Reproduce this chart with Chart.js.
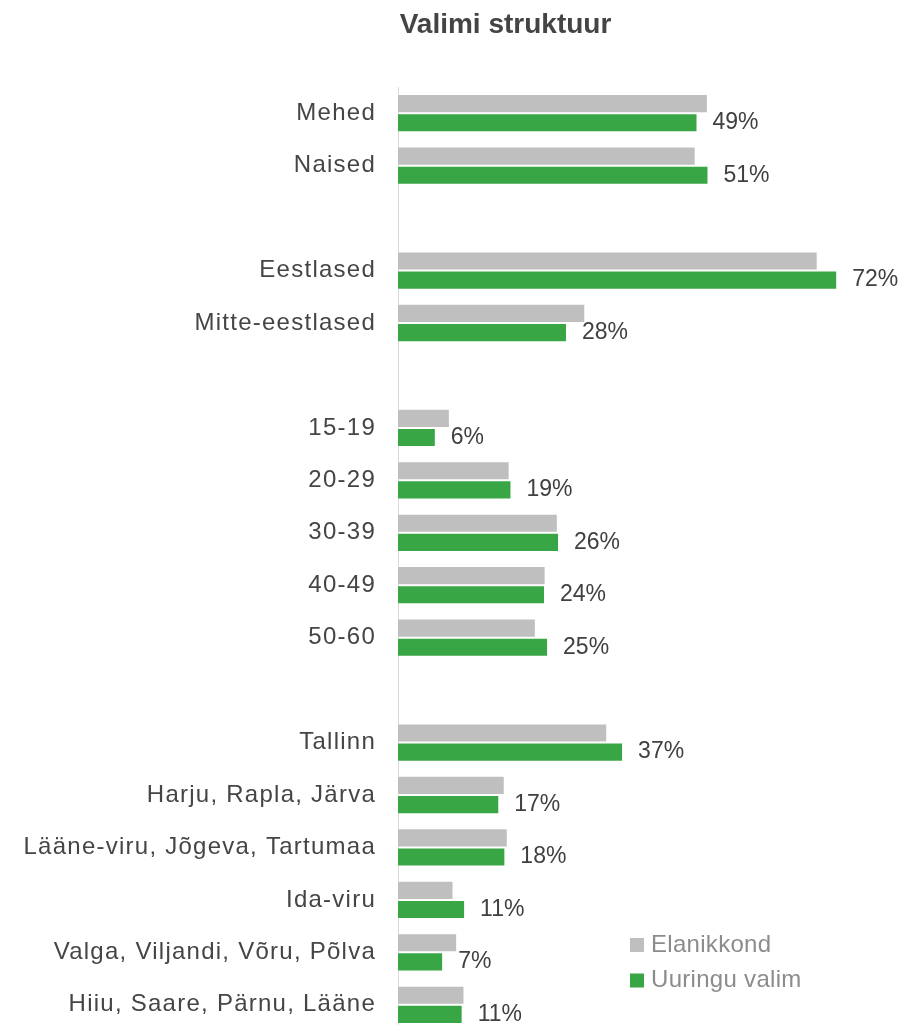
<!DOCTYPE html>
<html>
<head>
<meta charset="utf-8">
<title>Valimi struktuur</title>
<script src="https://cdn.jsdelivr.net/npm/chart.js@4.4.1/dist/chart.umd.min.js"></script>
<style>
    html, body { margin: 0; padding: 0; background: #fff; overflow: hidden; }
    canvas { display: block; }
</style>
</head>
<body>
<canvas id="StructureChart" width="905" height="1040"></canvas>
<script>
    var chartTitle = 'Valimi struktuur';
    var seriesNames = ['Elanikkond', 'Uuringu valim'];
    var categories = [
        'Mehed', 'Naised', '',
        'Eestlased', 'Mitte-eestlased', '',
        '15-19', '20-29', '30-39', '40-49', '50-60', '',
        'Tallinn', 'Harju, Rapla, Järva', 'Lääne-viru, Jõgeva, Tartumaa', 'Ida-viru',
        'Valga, Viljandi, Võru, Põlva', 'Hiiu, Saare, Pärnu, Lääne'
    ];
    // grey bars (no labels in the original)
    var population = [50.8, 48.8, null, 68.8, 30.7, null, 8.5, 18.3, 26.2, 24.2, 22.6, null, 34.3, 17.5, 18.0, 9.1, 9.7, 10.9];
    // green bars, labelled with rounded %
    var sample = [49.1, 50.9, null, 72.0, 27.7, null, 6.2, 18.6, 26.4, 24.1, 24.6, null, 36.9, 16.6, 17.6, 11.0, 7.4, 10.6];

    var fontFamily = "'Liberation Sans', Arial, Helvetica, sans-serif";
    var greyColor = '#bfbfbf';
    var greenColor = '#39a645';

    // category labels in the original are a bit letter-spaced
    var spacingPlugin = {
        id: 'labelSpacing',
        beforeLayout: function (chart) { chart.ctx.letterSpacing = '1.25px'; },
        afterLayout: function (chart) { chart.ctx.letterSpacing = '0px'; },
        beforeDraw: function (chart) { chart.ctx.letterSpacing = '1.25px'; },
        beforeDatasetsDraw: function (chart) { chart.ctx.letterSpacing = '0px'; }
    };

    var valueLabelsPlugin = {
        id: 'valueLabels',
        afterDatasetsDraw: function (chart) {
            var ctx = chart.ctx;
            var meta = chart.getDatasetMeta(1);
            ctx.save();
            ctx.font = '23px ' + fontFamily;
            ctx.fillStyle = '#404040';
            ctx.textAlign = 'left';
            ctx.textBaseline = 'middle';
            meta.data.forEach(function (bar, i) {
                if (sample[i] === null) { return; }
                ctx.fillText(Math.round(sample[i]) + '%', bar.x + 15, bar.y);
            });
            ctx.restore();
        }
    };

    var titleLegendPlugin = {
        id: 'titleLegend',
        afterDraw: function (chart) {
            var ctx = chart.ctx;
            ctx.save();
            ctx.letterSpacing = '0px';
            ctx.font = 'bold 28px ' + fontFamily;
            ctx.fillStyle = '#444444';
            ctx.textAlign = 'center';
            ctx.textBaseline = 'alphabetic';
            ctx.fillText(chartTitle, 505.5, 33);

            ctx.letterSpacing = '0.3px';
            ctx.font = '24px ' + fontFamily;
            ctx.textAlign = 'left';
            ctx.textBaseline = 'middle';
            chart.data.datasets.forEach(function (ds, i) {
                var cy = 945 + i * 35.5;
                ctx.fillStyle = ds.backgroundColor;
                ctx.fillRect(630, cy - 7, 14, 14);
                ctx.fillStyle = '#8c8c8c';
                ctx.fillText(ds.label, 651, cy);
            });
            ctx.restore();
        }
    };

    new Chart(document.getElementById('StructureChart'), {
        type: 'bar',
        data: {
            labels: categories,
            datasets: [{
                label: seriesNames[0],
                data: population,
                backgroundColor: greyColor,
                borderColor: 'rgba(255,255,255,0.5)',
                borderWidth: 1
            }, {
                label: seriesNames[1],
                data: sample,
                backgroundColor: greenColor,
                borderColor: 'rgba(255,255,255,0.5)',
                borderWidth: 1
            }]
        },
        options: {
            indexAxis: 'y',
            responsive: false,
            animation: false,
            events: [],
            datasets: { bar: { categoryPercentage: 0.73, barPercentage: 1 } },
            layout: { padding: { top: 87, bottom: 9, right: 19, left: 0 } },
            plugins: {
                legend: { display: false },
                title: { display: false },
                tooltip: { enabled: false }
            },
            scales: {
                x: { min: 0, max: 80, display: false },
                y: {
                    grid: { display: false, drawTicks: false },
                    border: { display: true, color: '#d9d9d9', width: 1 },
                    ticks: {
                        autoSkip: false,
                        padding: 22,
                        color: '#454545',
                        font: { family: fontFamily, size: 24 }
                    },
                    afterFit: function (scale) {
                        scale.width = 398;
                        // labels sit inside the offset bands, no extra room needed
                        scale.paddingTop = 0;
                        scale.paddingBottom = 0;
                    }
                }
            }
        },
        plugins: [spacingPlugin, valueLabelsPlugin, titleLegendPlugin]
    });
</script>
</body>
</html>
